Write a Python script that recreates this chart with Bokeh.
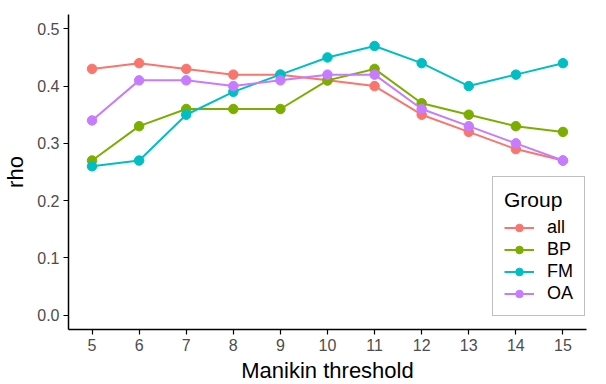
from bokeh.plotting import figure
from bokeh.models import Range1d, FixedTicker, Legend, LegendItem, NumeralTickFormatter
from bokeh.embed import file_html
from bokeh.resources import INLINE

thresholds = [5, 6, 7, 8, 9, 10, 11, 12, 13, 14, 15]
groups = ["all", "BP", "FM", "OA"]
rho_all = [0.43, 0.44, 0.43, 0.42, 0.42, 0.41, 0.40, 0.35, 0.32, 0.29, 0.27]
rho_bp = [0.27, 0.33, 0.36, 0.36, 0.36, 0.41, 0.43, 0.37, 0.35, 0.33, 0.32]
rho_fm = [0.26, 0.27, 0.35, 0.39, 0.42, 0.45, 0.47, 0.44, 0.40, 0.42, 0.44]
rho_oa = [0.34, 0.41, 0.41, 0.40, 0.41, 0.42, 0.42, 0.36, 0.33, 0.30, 0.27]
colors = ["#F8766D", "#7CAE00", "#00BFC4", "#C77CFF"]
y_ticks = [0.0, 0.1, 0.2, 0.3, 0.4, 0.5]

p = figure(width=596, height=368, output_backend="svg", toolbar_location=None,
           x_range=Range1d(4.5, 15.5), y_range=Range1d(-0.025, 0.525),
           min_border_left=66, min_border_right=4, min_border_top=14, min_border_bottom=40)
p.frame_width = 518
p.frame_height = 315
p.outline_line_color = None
p.xgrid.visible = False
p.ygrid.visible = False

font = "Liberation Sans"
for ax in (p.xaxis[0], p.yaxis[0]):
    ax.axis_line_color = "black"
    ax.axis_line_width = 1.5
    ax.major_tick_line_color = "black"
    ax.major_tick_line_width = 1.2
    ax.major_tick_out = 5
    ax.major_tick_in = 0
    ax.minor_tick_line_color = None
    ax.major_label_text_font = font
    ax.major_label_text_font_size = "16px"
    ax.major_label_text_color = "#4D4D4D"
    ax.axis_label_text_font = font
    ax.axis_label_text_font_size = "22px"
    ax.axis_label_text_font_style = "normal"
    ax.axis_label_text_color = "black"

p.xaxis.ticker = FixedTicker(ticks=thresholds)
p.yaxis.ticker = FixedTicker(ticks=y_ticks)
p.yaxis.formatter = NumeralTickFormatter(format="0.0")
p.xaxis.axis_label = "Manikin threshold"
p.yaxis.axis_label = "rho"
p.xaxis.axis_label_standoff = 4
p.yaxis.axis_label_standoff = 6
p.xaxis.major_label_standoff = 4
p.yaxis.major_label_standoff = 4

items = []
for name, vals, c in zip(groups, [rho_all, rho_bp, rho_fm, rho_oa], colors):
    r1 = p.line(thresholds, vals, line_color=c, line_width=2)
    r2 = p.scatter(thresholds, vals, size=9.5, fill_color=c, line_color=c)
    items.append(LegendItem(label=name, renderers=[r1, r2]))

legend = Legend(items=items, location=(424, 13), title="Group",
                title_text_font=font, title_text_font_size="21px", title_text_color="black",
                title_text_font_style="normal", title_standoff=5,
                label_text_font=font, label_text_font_size="18px", label_text_color="black",
                border_line_color="#7F7F7F", border_line_width=1,
                glyph_width=30, glyph_height=19, label_height=19, spacing=1,
                padding=11, label_standoff=13, background_fill_alpha=1)
p.add_layout(legend, "center")

open("out.html", "w").write(file_html(p, INLINE))
